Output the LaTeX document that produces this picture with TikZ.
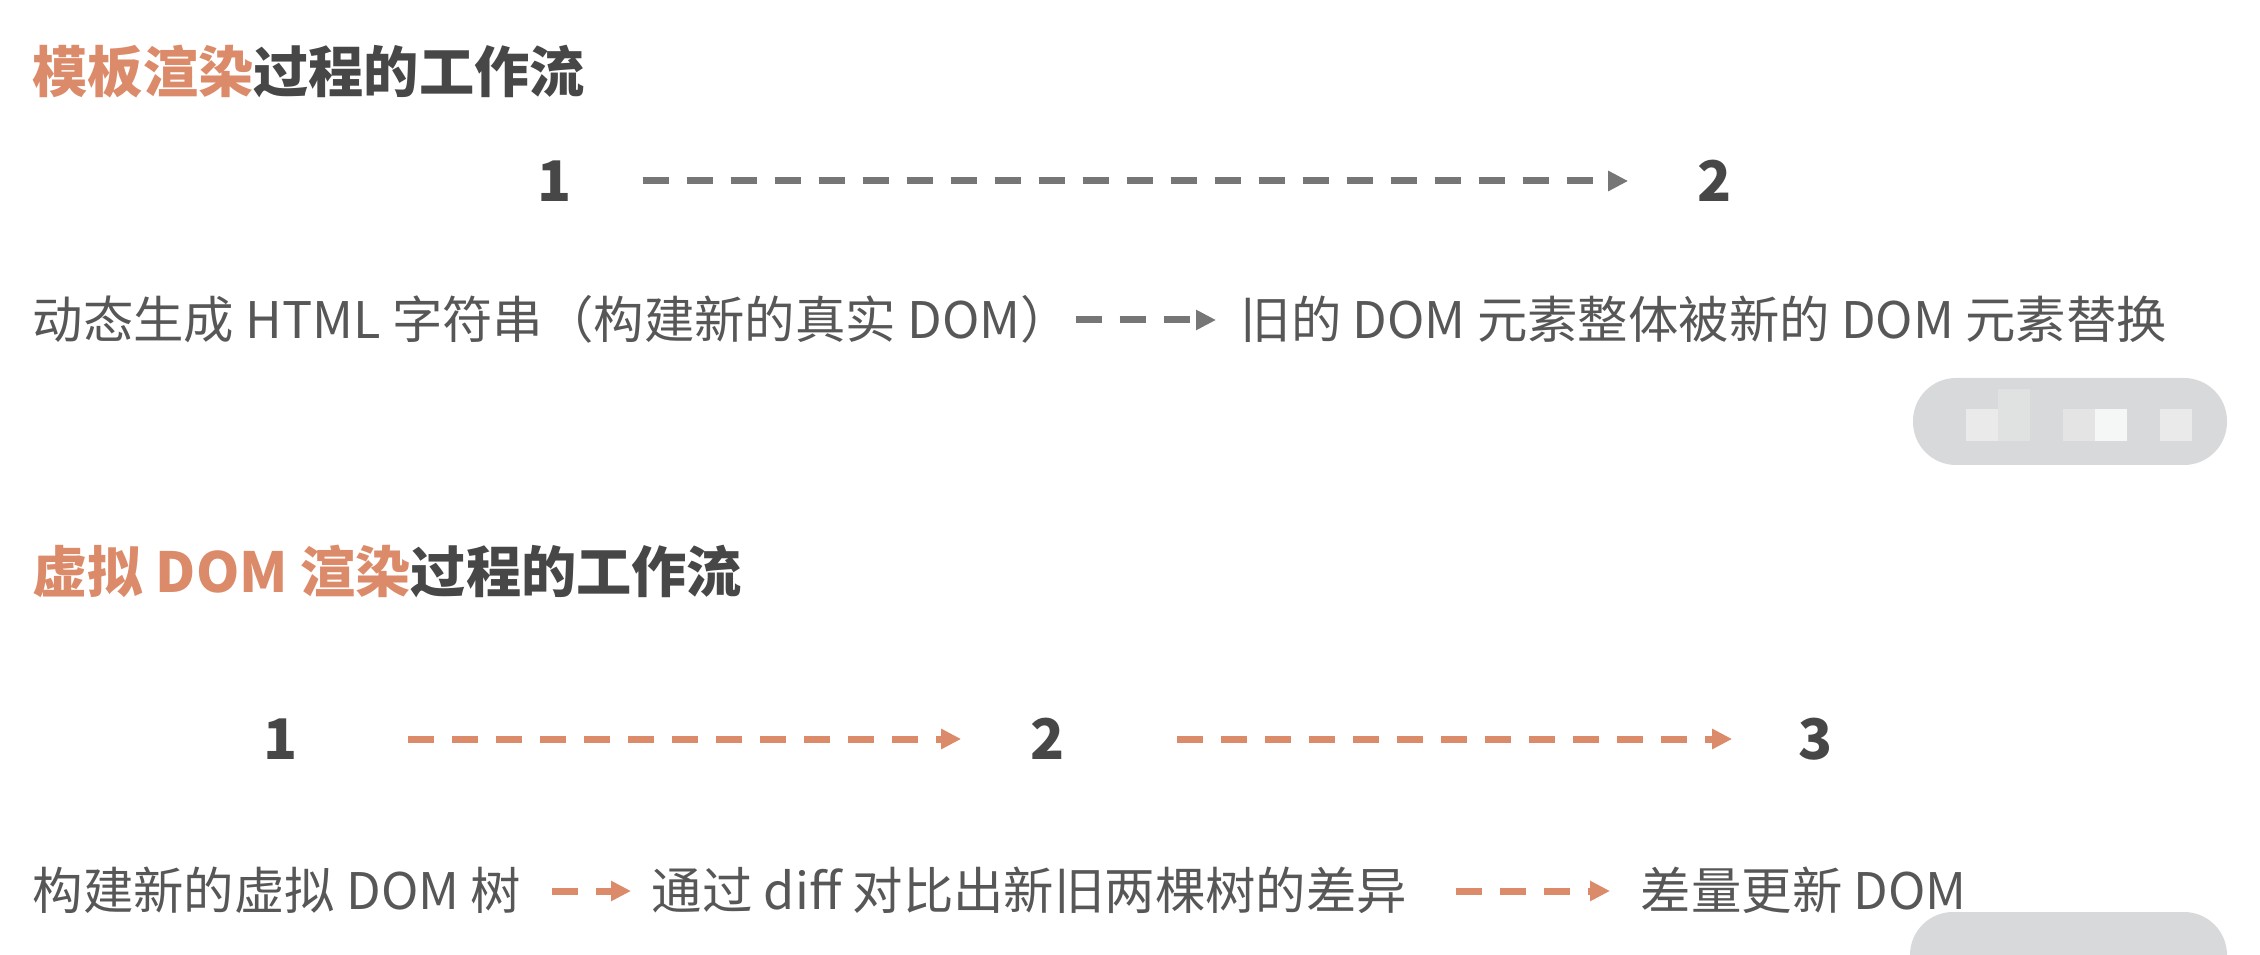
\documentclass[tikz,border=0pt]{standalone}
\usepackage{fontspec}
\setmainfont{Noto Sans CJK SC}
\usetikzlibrary{positioning,arrows.meta}
\definecolor{ink}    {HTML}{474747}
\definecolor{body}   {HTML}{575757}
\definecolor{salmon} {HTML}{DC8B6A}
\definecolor{slate}  {HTML}{767676}
\definecolor{blur}   {HTML}{D8D9DA}
\colorlet{blurlite}{blur!55!white}
\tikzset{
  % --- nodes
  ttl/.style = {anchor=west, inner sep=0pt, text height=11pt, text depth=0.8pt,
                font=\fontsize{13.8}{16}\selectfont\bfseries, text=ink},
  num/.style = {inner sep=0pt, text height=11pt, text depth=0.8pt,
                font=\fontsize{14}{16}\selectfont\bfseries, text=ink},
  txt/.style = {anchor=west, inner sep=0pt, text height=10.4pt, text depth=1pt,
                font=\fontsize{12.6}{14}\selectfont, text=body},
  % --- edges
  e/.style   = {line width=1.75pt, dash pattern=on 6.5pt off 4.5pt,
                -{Triangle[length=5pt,width=4.8pt]}},
  eg/.style  = {e, draw=slate},
  eo/.style  = {e, draw=salmon},
}

\begin{document}
\begin{tikzpicture}[x=0.25pt,y=0.25pt]
  \useasboundingbox (0,0) rectangle (2260,954);
  % template rendering
  \node[ttl] (t1) at (32,882) {{\color{salmon}模板渲染}过程的工作流};
  \node[num] (p1) at (555,773) {1};
  \node[num] (p2) at (1715,773) {2};
  \draw[eg, shorten <=17.5pt, shorten >=17.25pt] (p1) -- (p2);
  \node[txt] (s1) at (32,634) {动态生成 HTML 字符串（构建新的真实 DOM）};
  \node[txt] (s2) at (1240,634) {旧的 DOM 元素整体被新的 DOM 元素替换};
  \draw[eg, shorten <=1pt, shorten >=6pt] (s1) -- (s2);
  % blurred badges
  \fill[blur, rounded corners=10.75pt] (1913,489) rectangle (2227,576);
  \fill[blurlite] (1966,513) rectangle (1998,545);
  \fill[blur!80!white] (1998,513) rectangle (2030,565);
  \fill[blur!70!white] (2063,513) rectangle (2095,545);
  \fill[blur!25!white] (2095,513) rectangle (2127,545);
  \fill[blurlite] (2160,513) rectangle (2192,545);
  \fill[blur, rounded corners=10.75pt] (1910,-40) rectangle (2227,42);
  % virtual DOM rendering
  \node[ttl] (t2) at (32,382) {{\color{salmon}虚拟 DOM 渲染}过程的工作流};
  \node[num] (q1) at (281,215) {1};
  \node[num] (q2) at (1048,215) {2};
  \node[num] (q3) at (1816,215) {3};
  \draw[eo, shorten <=27.25pt, shorten >=17.25pt] (q1) -- (q2);
  \draw[eo, shorten <=27.75pt, shorten >=16.5pt] (q2) -- (q3);
  \node[txt] (c1) at (32,63) {构建新的虚拟 DOM 树};
  \node[txt] (c2) at (651,63) {通过 diff 对比出新旧两棵树的差异};
  \node[txt] (c3) at (1640,63) {差量更新 DOM};
  \draw[eo, shorten <=7.5pt, shorten >=5pt] (c1) -- (c2);
  \draw[eo, shorten <=12pt, shorten >=7.5pt] (c2) -- (c3);
\end{tikzpicture}
\end{document}
